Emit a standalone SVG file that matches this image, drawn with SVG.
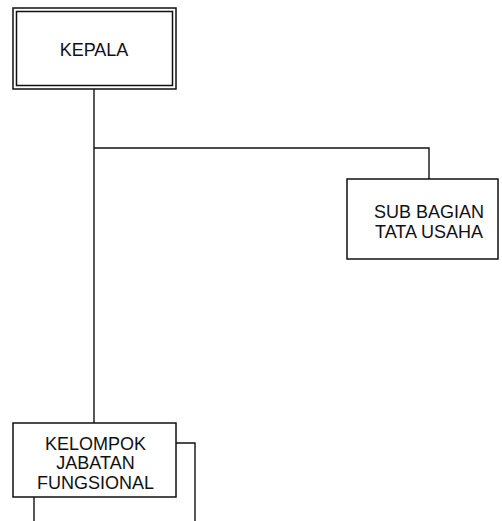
<svg xmlns="http://www.w3.org/2000/svg" width="502" height="521" viewBox="0 0 502 521">
<style>
.box{fill:#fff;stroke:#111;stroke-width:1.5}
.ln{fill:none;stroke:#111;stroke-width:1.4}
text{font-family:"Liberation Sans",Arial,sans-serif;font-size:18px;fill:#111;text-anchor:middle}
</style>
<rect width="502" height="521" fill="#fff"/>
<g id="connectors">
<path class="ln" d="M94 89 V423"/>
<path class="ln" d="M94 148 H429 V179"/>
<path class="ln" d="M34 497 V521"/>
<path class="ln" d="M176 443 H195 V521"/>
</g>
<g id="kepala">
<rect class="box" x="13" y="8" width="163" height="81"/>
<rect class="box" x="16.5" y="11.5" width="156" height="74"/>
<text x="94" y="56">KEPALA</text>
</g>
<g id="subbagian">
<rect class="box" x="347" y="179" width="151" height="80"/>
<text x="429" y="218">SUB BAGIAN</text>
<text x="429" y="238">TATA USAHA</text>
</g>
<g id="kelompok">
<rect class="box" x="13" y="423" width="163" height="74"/>
<text x="95.5" y="450">KELOMPOK</text>
<text x="95.5" y="469">JABATAN</text>
<text x="95.5" y="489">FUNGSIONAL</text>
</g>
</svg>
